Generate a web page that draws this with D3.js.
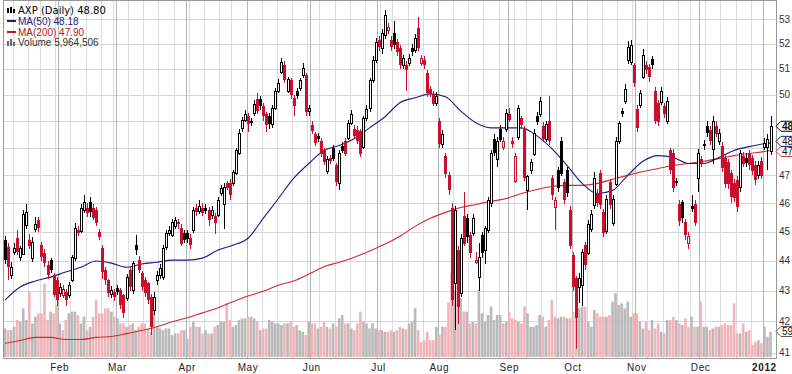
<!DOCTYPE html>
<html><head><meta charset="utf-8">
<script src="https://cdn.jsdelivr.net/npm/d3@7"></script>
<style>
body{margin:0;background:#fff}
svg{display:block}
</style>
</head><body>
<svg id="chart" width="792" height="374"></svg>
<script>
// ---------------- DATA ----------------
const opens=[44.70,44.46,43.52,44.30,44.77,44.12,44.26,45.21,44.70,44.09,45.11,45.39,44.53,44.26,43.85,44.02,43.52,43.35,42.92,42.85,42.95,42.85,43.35,44.12,45.04,45.04,45.74,45.81,46.05,45.81,45.74,44.97,44.43,43.68,43.35,42.89,42.95,43.08,43.02,42.85,42.75,43.68,43.02,44.53,44.02,43.58,43.35,43.25,42.79,42.37,43.35,43.52,43.45,44.46,44.94,44.87,45.18,45.32,45.14,44.94,44.94,44.77,45.04,45.81,45.74,45.84,45.81,45.74,45.56,45.56,45.56,46.34,45.95,46.70,46.70,46.70,47.06,47.82,48.74,49.04,49.19,49.00,49.31,49.85,49.85,49.57,49.27,49.19,48.88,49.50,50.15,50.87,51.15,50.15,50.55,49.88,50.15,50.23,50.75,50.75,49.38,48.85,48.52,48.45,48.26,47.90,47.17,47.64,48.00,47.35,46.70,48.08,48.26,48.38,48.93,48.71,48.67,48.63,48.04,49.11,49.46,50.55,51.35,52.15,51.83,52.35,52.55,52.15,52.43,52.07,51.83,51.15,51.15,51.23,51.83,51.75,52.63,51.23,51.35,50.83,50.23,50.03,49.69,49.00,48.15,47.71,46.99,45.81,43.25,44.36,42.92,45.56,45.46,44.87,44.94,43.95,43.45,44.87,44.36,45.04,45.98,48.34,47.60,48.71,48.04,48.71,49.27,48.26,46.81,48.41,49.11,48.71,46.45,47.17,47.79,49.19,49.27,48.82,48.34,49.00,46.88,45.84,47.17,48.26,46.74,47.17,45.77,44.19,43.42,43.12,43.18,44.53,44.29,45.11,45.91,46.34,47.06,45.67,45.04,46.74,45.32,46.70,48.26,49.38,49.77,51.35,51.27,51.15,49.46,49.61,50.67,51.15,51.07,51.39,50.15,49.69,49.73,49.57,49.00,47.90,47.82,46.77,45.98,46.02,45.32,44.60,45.91,45.98,46.92,47.60,48.15,48.82,48.67,47.97,48.82,48.26,48.08,47.64,47.46,47.06,46.70,46.81,46.56,47.71,47.64,47.79,47.64,47.35,46.99,47.53,48.04,48.04,47.86];
const highs=[44.85,44.60,43.95,44.60,45.04,44.50,45.75,45.95,44.90,44.80,45.50,45.50,44.65,44.40,44.00,44.10,43.60,43.45,43.25,43.20,43.05,43.30,44.20,45.30,45.20,45.95,46.30,46.00,46.20,45.95,45.85,45.10,44.55,43.80,43.40,43.15,43.05,43.20,43.10,42.90,43.55,43.80,44.00,44.87,44.15,43.65,43.45,43.30,42.90,42.95,43.65,43.90,44.55,45.05,45.20,45.45,45.50,45.45,45.25,45.05,45.05,44.90,45.85,45.95,46.10,46.00,45.95,45.85,45.90,45.65,46.20,46.65,46.70,46.80,46.85,47.20,48.00,48.70,49.15,49.40,49.30,49.10,49.80,50.05,49.95,49.70,49.35,49.30,49.60,50.25,50.60,51.45,51.30,50.70,50.65,50.00,50.25,50.65,51.25,50.85,49.60,49.00,48.60,48.55,48.35,48.00,47.70,47.75,48.10,47.45,47.90,48.20,48.35,49.05,49.40,48.85,48.80,48.70,49.20,49.60,50.65,51.50,52.25,52.30,52.60,53.37,52.85,52.30,52.90,52.20,51.95,51.55,51.30,51.60,52.00,52.40,53.10,51.55,51.50,50.95,50.35,50.15,50.10,49.10,48.65,47.80,47.10,46.00,45.90,44.50,44.90,46.40,45.60,45.00,45.60,44.30,44.60,45.00,45.20,46.20,47.90,48.50,48.40,48.85,48.40,49.45,49.50,48.40,47.80,49.60,49.20,48.80,47.00,47.60,48.70,49.35,49.90,48.95,49.00,49.96,47.00,46.20,47.30,48.40,46.85,47.30,45.90,44.30,43.50,43.60,44.40,44.65,45.40,45.75,47.10,46.50,47.20,45.80,46.30,46.85,46.30,48.40,49.00,49.50,50.40,52.10,52.15,51.25,49.60,50.20,51.80,51.30,51.20,51.50,50.30,49.80,50.30,49.70,49.90,48.00,47.95,46.90,46.10,46.10,45.45,45.00,46.30,46.10,47.95,47.70,48.30,49.00,48.80,49.20,49.00,48.70,48.20,47.75,47.60,47.20,46.85,46.95,47.90,47.85,47.80,47.90,47.75,47.50,47.50,47.65,48.35,48.50,49.20];
const lows=[43.90,43.35,43.40,44.20,44.20,44.00,44.20,45.10,44.40,43.95,45.00,45.00,44.00,43.80,43.40,43.60,42.80,42.50,42.80,42.75,42.50,42.75,43.30,44.00,44.85,44.95,45.65,45.50,45.50,45.40,45.20,44.70,43.40,43.20,42.80,42.75,42.65,42.85,42.40,42.10,42.65,43.00,42.90,44.20,43.60,43.00,42.80,42.55,41.55,42.20,43.20,43.40,43.35,44.35,44.85,44.80,45.10,45.10,44.50,44.60,44.60,44.40,44.95,45.55,45.60,45.55,45.60,45.20,45.45,44.90,45.50,46.25,45.10,46.45,46.10,46.60,47.00,47.75,48.60,48.95,48.60,48.80,49.20,49.25,49.40,49.00,48.60,48.70,48.75,49.40,50.05,50.80,50.45,50.05,49.85,49.19,49.85,50.15,50.65,49.20,49.20,48.50,48.05,48.20,47.65,47.35,47.05,47.40,47.50,46.60,46.45,47.80,47.70,48.30,48.85,48.35,48.15,47.65,47.95,49.00,49.35,50.45,51.25,51.70,51.60,52.20,52.40,51.70,51.80,51.50,51.00,51.00,50.15,51.10,51.50,51.65,51.70,51.10,51.00,49.90,49.90,49.55,49.55,48.00,48.00,46.90,46.30,42.50,41.73,41.90,42.80,44.50,44.60,44.10,44.85,43.90,43.00,44.10,43.90,44.95,45.85,47.70,47.30,48.20,47.90,48.60,48.95,48.00,46.70,48.30,48.70,46.80,45.74,47.05,47.70,48.85,49.15,48.20,48.20,48.10,46.10,45.04,46.40,46.95,45.95,46.20,44.40,43.00,41.10,42.60,42.50,43.70,44.20,45.00,45.80,45.85,45.80,44.80,44.90,45.80,45.20,46.60,48.15,49.15,49.65,51.20,51.15,50.30,48.60,49.50,50.60,50.80,50.50,51.00,48.90,48.80,49.60,49.10,48.90,47.05,46.40,46.60,45.20,45.30,44.70,44.40,45.70,45.20,46.40,47.30,47.90,48.40,48.10,47.40,48.40,48.10,47.10,46.55,46.50,46.00,46.05,45.70,46.40,47.30,47.30,47.20,47.00,46.65,46.85,46.85,47.90,47.20,47.75];
const closes=[44.02,43.78,43.80,44.43,44.29,44.42,45.63,45.67,44.50,44.63,45.28,45.11,44.12,43.92,43.52,43.68,42.85,42.69,43.12,43.05,42.69,43.18,44.12,45.14,44.94,45.84,46.02,45.63,45.70,45.46,45.28,44.80,43.62,43.35,42.92,43.02,42.79,42.95,42.53,42.27,43.45,43.12,43.92,44.36,43.68,43.12,42.92,42.69,41.82,42.79,43.52,43.75,44.43,44.94,45.04,45.32,45.39,45.24,44.60,44.70,44.74,44.53,45.74,45.67,45.91,45.67,45.70,45.39,45.74,45.32,46.09,46.52,46.56,46.52,46.27,47.10,47.90,48.56,49.04,49.27,48.89,48.92,49.65,49.38,49.57,49.19,48.85,48.88,49.50,50.15,50.47,51.27,50.55,50.60,49.96,49.57,49.96,50.55,51.03,49.31,49.50,48.63,48.19,48.34,47.79,47.46,47.60,47.53,47.60,46.74,47.79,47.90,47.79,48.93,49.27,48.45,48.26,47.79,49.11,49.46,50.55,51.35,52.07,51.87,52.43,53.16,52.67,51.87,51.95,51.67,51.15,51.43,50.95,51.43,51.67,52.23,51.83,51.43,51.15,50.07,50.03,49.65,49.96,48.15,48.52,47.06,46.45,42.69,45.74,42.47,44.77,44.60,44.80,44.26,45.46,44.02,44.12,44.26,45.11,46.09,47.79,47.82,48.26,48.30,48.26,49.31,49.04,48.15,47.71,49.50,48.85,46.92,46.95,47.46,48.56,48.96,49.77,48.34,48.89,48.26,46.27,46.09,46.52,47.06,46.09,46.34,44.53,43.12,42.11,43.42,44.29,43.85,45.28,45.63,46.88,45.98,45.91,44.94,46.16,45.91,46.16,48.26,48.93,49.27,50.23,51.87,51.95,50.43,48.74,50.07,51.55,50.95,50.67,51.15,49.00,48.96,50.15,49.27,49.77,47.17,46.56,46.70,45.39,45.46,44.87,44.85,45.81,45.32,47.82,47.46,48.08,48.56,48.26,49.00,48.52,48.56,47.28,46.70,46.66,46.20,46.18,45.84,47.79,47.42,47.46,47.35,47.17,46.81,47.35,46.99,48.19,48.34,48.80];
// volume, millions of shares
const volumes=[6.8,6.4,6.4,7.2,8.8,8.4,11.6,8.8,15.6,8.0,9.6,10.4,10.4,17.5,8.8,10.8,10.4,12.4,8.0,6.4,8.8,10.4,10.8,10.8,10.0,8.0,9.6,6.4,7.2,9.6,13.6,10.4,10.4,11.6,11.6,10.8,9.6,9.2,8.0,8.0,7.2,7.6,8.0,6.4,7.2,8.0,8.0,6.8,6.0,10.4,7.2,6.8,6.4,6.8,6.8,5.2,5.6,5.6,6.4,6.4,4.4,7.2,8.4,7.2,7.2,5.6,6.4,5.6,5.6,7.2,7.6,8.4,8.4,12.8,8.8,7.2,7.6,8.8,9.2,9.2,9.6,9.6,9.2,8.4,6.4,6.8,6.8,8.8,8.4,8.0,8.0,7.6,8.0,8.0,8.4,7.2,7.6,6.4,6.0,5.2,8.4,8.0,8.0,6.8,7.2,8.4,7.2,6.8,8.0,7.2,9.2,10.0,8.0,8.0,6.8,6.4,8.0,10.8,8.4,8.0,6.8,8.0,6.8,6.4,6.4,6.0,6.0,6.4,6.0,6.4,7.2,6.8,6.6,8.0,8.4,11.6,6.4,3.6,4.0,6.0,4.0,4.0,7.2,5.2,7.2,7.2,13.0,20.0,16.0,17.0,14.0,10.8,10.8,8.0,8.4,8.0,16.0,10.4,8.4,10.0,12.0,8.8,10.0,10.0,8.0,8.4,10.8,9.2,8.8,8.4,8.0,12.0,10.4,7.2,7.2,7.6,10.0,9.6,7.2,8.8,13.6,9.6,9.2,9.6,9.6,9.2,9.2,10.8,10.4,11.6,12.0,12.0,8.4,7.2,11.2,10.4,9.6,9.6,9.6,10.0,13.2,15.2,12.4,12.8,11.6,13.2,9.6,10.4,10.4,8.4,6.8,8.4,6.4,8.8,6.8,8.0,6.0,5.6,8.8,8.8,9.6,8.8,8.0,7.6,9.2,7.2,9.6,7.2,7.2,13.2,7.2,7.2,6.4,6.8,7.2,7.2,7.6,8.0,7.6,7.6,12.8,5.6,5.6,8.0,6.0,6.4,2.9,3.6,4.0,3.3,7.2,4.8,5.96];
// moving averages read every 5 sessions
const maIndex=[0,5,10,15,20,25,30,35,40,45,50,55,60,65,70,75,80,85,90,95,100,105,110,115,120,125,130,135,140,145,150,155,160,165,170,175,180,185,190,195,200,205,210,215,220,225,230,235,240,245,250,252];
const ma50=[42.69,43.12,43.32,43.45,43.62,43.78,43.99,43.92,43.78,43.89,43.95,44.02,44.02,44.09,44.36,44.53,44.77,45.46,46.16,46.88,47.42,47.90,48.08,48.34,48.74,49.15,49.69,49.88,50.03,49.92,49.38,48.93,48.74,48.74,48.74,48.45,47.97,47.35,46.70,46.34,46.45,46.99,47.50,47.71,47.64,47.42,47.42,47.64,47.90,48.04,48.15,48.18];
const ma200=[41.29,41.38,41.48,41.48,41.41,41.41,41.48,41.51,41.60,41.70,41.82,41.98,42.11,42.27,42.43,42.63,42.82,42.98,43.18,43.32,43.55,43.80,43.95,44.12,44.33,44.56,44.84,45.18,45.46,45.67,45.84,45.95,46.06,46.16,46.34,46.48,46.59,46.63,46.63,46.70,46.85,46.99,47.13,47.24,47.35,47.42,47.50,47.60,47.71,47.79,47.86,47.90];
const priceTicks=[41,42,43,44,45,46,47,48,49,50,51,52,53];
const monthLabels=["Jan","Feb","Mar","Apr","May","Jun","Jul","Aug","Sep","Oct","Nov","Dec"];
const holidays=["2011-01-17","2011-02-21","2011-04-22","2011-05-30","2011-07-04","2011-09-05","2011-11-24","2011-12-26","2012-01-02"];
const legendTexts=["AXP (Daily) 48.80","MA(50) 48.18","MA(200) 47.90","Volume 5,964,506"];

// ---------------- SESSIONS ----------------
const fmt=d3.timeFormat("%Y-%m-%d");
const dates=[];
for(let d=new Date(2011,0,5); dates.length<closes.length; d=d3.timeDay.offset(d,1)){
  const wd=d.getDay();
  if(wd===0||wd===6||holidays.includes(fmt(d))) continue;
  dates.push(new Date(d));
}
const N=closes.length;

// ---------------- LAYOUT ----------------
const L=3.5, R=776.5, T=0.5, B=358.5;
const svg=d3.select("#chart");
const x=d3.scaleLinear().domain([0,N-1]).range([5,770.5]);
const y=d3.scaleLog().domain([41,53]).range([352.5,19]);
const yv=d3.scaleLinear().domain([0,25]).range([357,252]);

const RED="#c8102e", UPC="#000";
const col=i=> (i>0 && closes[i]<closes[i-1]) ? RED : UPC;

// grid
const g=svg.append("g").attr("shape-rendering","crispEdges");
const weekStarts=d3.range(1,N).filter(i=>dates[i].getDay()<dates[i-1].getDay());
const monthStarts=d3.range(1,N).filter(i=>dates[i].getMonth()!==dates[i-1].getMonth());
g.selectAll(".wk").data(weekStarts.filter(i=>!monthStarts.includes(i))).join("line")
  .attr("x1",i=>Math.round(x(i)-1.5)+0.5).attr("x2",i=>Math.round(x(i)-1.5)+0.5)
  .attr("y1",T).attr("y2",B).attr("stroke","#dcdcdc");
g.selectAll(".hz").data(priceTicks).join("line")
  .attr("x1",L).attr("x2",R).attr("y1",p=>Math.round(y(p))+0.5).attr("y2",p=>Math.round(y(p))+0.5)
  .attr("stroke","#d6d6d6");
g.selectAll(".mo").data(monthStarts).join("line")
  .attr("x1",i=>Math.round(x(i)-1.5)+0.5).attr("x2",i=>Math.round(x(i)-1.5)+0.5)
  .attr("y1",T).attr("y2",B).attr("stroke","#b4b4b4");

// volume
svg.append("g").selectAll("rect").data(volumes).join("rect")
  .attr("x",(v,i)=>x(i)-1.3).attr("width",2.6)
  .attr("y",v=>yv(v)).attr("height",v=>yv(0)-yv(v))
  .attr("fill",(v,i)=>col(i)===RED?"#f1b4bb":"#b9b9b9");

// MA lines
const line=d3.line().x(d=>x(d[0])).y(d=>y(d[1])).curve(d3.curveMonotoneX);
svg.append("path").datum(maIndex.map((k,j)=>[k,ma200[j]])).attr("d",line)
  .attr("fill","none").attr("stroke","#d42a2a").attr("stroke-width",1.1);
svg.append("path").datum(maIndex.map((k,j)=>[k,ma50[j]])).attr("d",line)
  .attr("fill","none").attr("stroke","#1c1c86").attr("stroke-width",1.1);

// candles
const cg=svg.append("g").attr("shape-rendering","crispEdges");
const idx=d3.range(N);
cg.selectAll(".wick").data(idx).join("line")
  .attr("x1",i=>Math.round(x(i))+0.5).attr("x2",i=>Math.round(x(i))+0.5)
  .attr("y1",i=>y(highs[i])).attr("y2",i=>y(lows[i]))
  .attr("stroke",col);
cg.selectAll(".body").data(idx).join("rect")
  .each(function(i){
    const top=y(Math.max(opens[i],closes[i])), bot=y(Math.min(opens[i],closes[i]));
    const hollow=closes[i]>=opens[i];
    const cx=Math.round(x(i));
    const s=d3.select(this);
    if(hollow){
      s.attr("x",cx-0.5).attr("width",2).attr("y",Math.round(top)+0.5).attr("height",Math.max(1,Math.round(bot-top)))
       .attr("fill","#fff").attr("stroke",col(i));
    } else {
      s.attr("x",cx-1).attr("width",3).attr("y",Math.round(top)).attr("height",Math.max(1,Math.round(bot-top)))
       .attr("fill",col(i));
    }
  });

// frame
svg.append("rect").attr("x",L).attr("y",T).attr("width",R-L).attr("height",B-T)
  .attr("fill","none").attr("stroke","#999").attr("shape-rendering","crispEdges");

// right-side value tags (positions)
const tags=[
  {py:y(ma200[ma200.length-1])+1,stroke:"#d42a2a",txt:"47.90"},
  {py:y(ma50[ma50.length-1])-1.5,stroke:"#1c1c86",txt:"48.18"},
  {py:y(closes[N-1]),stroke:"#000",txt:"48.80",bold:true},
  {py:yv(volumes[N-1])-0.5,stroke:"#555",txt:"5964506"}
];

// y labels (those hidden behind tags are skipped)
svg.append("g").selectAll("text").data(priceTicks.filter(p=>tags.every(t=>Math.abs(t.py-y(p))>8))).join("text")
  .attr("x",779).attr("y",p=>y(p)+3.5).text(d=>d)
  .attr("font-family","Liberation Sans, Arial, sans-serif").attr("font-size",10).attr("fill","#333");

// x labels
svg.append("g").selectAll("text").data(monthStarts).join("text")
  .attr("x",i=>x(i)).attr("y",371).attr("text-anchor","middle")
  .attr("font-family","Liberation Sans, Arial, sans-serif").attr("font-size",10)
  .attr("letter-spacing",0.6)
  .attr("font-weight",i=>dates[i].getMonth()===0?"bold":"normal")
  .attr("fill","#222")
  .text(i=>dates[i].getMonth()===0?dates[i].getFullYear():monthLabels[dates[i].getMonth()]);

// tags drawn last
tags.forEach(({py,stroke,txt,bold})=>{
  const t=svg.append("g");
  t.append("path").attr("d",`M776,${py} L781,${py-5} L800,${py-5} L800,${py+5} L781,${py+5} Z`)
   .attr("fill","#fff").attr("stroke",stroke).attr("stroke-width",1);
  t.append("text").attr("x",782).attr("y",py+3.5).text(txt)
   .attr("font-family","Liberation Sans, Arial, sans-serif").attr("font-size",10)
   .attr("font-weight",bold?"bold":"normal").attr("fill","#111");
});

// legend
const lg=svg.append("g");
const fam=["DejaVu Sans, Verdana, sans-serif","Liberation Sans, Arial, sans-serif","Liberation Sans, Arial, sans-serif","Liberation Sans, Arial, sans-serif"];
const lcol=["#000","#1c1c86","#b01818","#333"];
const base=[14,24.5,35.5,46];
lg.selectAll("text").data(legendTexts).join("text")
  .attr("x",18).attr("y",(d,j)=>base[j]).text(d=>d)
  .attr("font-family",(d,j)=>fam[j]).attr("font-size",10).attr("fill",(d,j)=>lcol[j]);
// icons
const ic=lg.append("g").attr("shape-rendering","crispEdges");
[[7,8,5],[10,7,6],[13,9,4]].forEach(([a,b,h])=>ic.append("rect").attr("x",a).attr("y",b).attr("width",2).attr("height",h).attr("fill","#000"));
ic.append("rect").attr("x",7).attr("y",20).attr("width",9).attr("height",2).attr("fill","#1c1c86");
ic.append("rect").attr("x",7).attr("y",31).attr("width",9).attr("height",2).attr("fill","#c01818");
[[7,41,5],[10,39,7],[13,42,4]].forEach(([a,b,h])=>ic.append("rect").attr("x",a).attr("y",b).attr("width",2).attr("height",h).attr("fill","#666"));
</script>
</body></html>
